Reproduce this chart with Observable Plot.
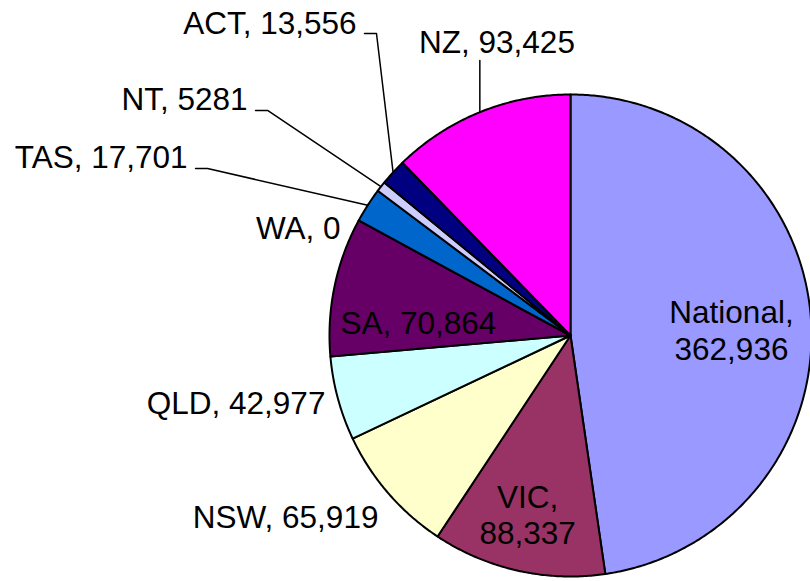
<!DOCTYPE html>
<html>
<head>
<meta charset="utf-8">
<script src="https://cdn.jsdelivr.net/npm/d3@7"></script>
<script src="https://cdn.jsdelivr.net/npm/@observablehq/plot@0.6"></script>
<style>
  html, body { margin: 0; padding: 0; background: #fff; }
  #chart svg { display: block; background: #fff; }
</style>
</head>
<body>
<div id="chart"></div>
<script>
// ---- Data ----
const categories = ["National", "VIC", "NSW", "QLD", "SA", "WA", "TAS", "NT", "ACT", "NZ"];
const values = [362936, 88337, 65919, 42977, 70864, 0, 17701, 5281, 13556, 93425];
const valueLabels = ["362,936", "88,337", "65,919", "42,977", "70,864", "0", "17,701", "5281", "13,556", "93,425"];
const colors = ["#9999FF", "#993366", "#FFFFCC", "#CCFFFF", "#660066", "#FF8080", "#0066CC", "#CCCCFF", "#000080", "#FF00FF"];

// ---- Layout (label placement in pie-radius units, x right / y up from centre) ----
const labelLayout = [
  {x: 0.668, y: -0.100, anchor: "middle", wrap: true},
  {x: -0.178, y: -0.867, anchor: "middle", wrap: true},
  {x: -0.797, y: -0.797, anchor: "end"},
  {x: -1.017, y: -0.324, anchor: "end"},
  {x: -0.631, y: 0.008, anchor: "middle"},
  {x: -0.954, y: 0.402, anchor: "end"},
  {x: -1.589, y: 0.693, anchor: "end", leader: "elbow"},
  {x: -1.340, y: 0.934, anchor: "end", leader: "elbow"},
  {x: -0.888, y: 1.253, anchor: "end", leader: "elbow"},
  {x: -0.305, y: 1.174, anchor: "middle", leader: "vertical"}
];

const W = 810, H = 581, CX = 570, CY = 335, R = 241;

// ---- Build slice geometry from the values ----
const total = d3.sum(values);
let acc = 0;
const slices = categories.map((c, i) => {
  const a0 = acc / total * 2 * Math.PI;
  acc += values[i];
  const a1 = acc / total * 2 * Math.PI;
  return {c, i, a0, a1, mid: (a0 + a1) / 2};
});

const polyPts = [];
for (const s of slices) {
  polyPts.push({c: s.c, x: 0, y: 0});
  const n = Math.max(2, Math.ceil((s.a1 - s.a0) / (Math.PI / 360)));
  for (let k = 0; k <= n; k++) {
    const a = s.a0 + (s.a1 - s.a0) * k / n;
    polyPts.push({c: s.c, x: Math.sin(a), y: Math.cos(a)});
  }
  polyPts.push({c: s.c, x: 0, y: 0});
}

// ---- Labels ----
const labelData = slices.map((s, i) => {
  const L = labelLayout[i];
  const text = L.wrap ? `${categories[i]},\n${valueLabels[i]}` : `${categories[i]}, ${valueLabels[i]}`;
  return {c: s.c, x: L.x, y: L.y, anchor: L.anchor, text};
});

// ---- Leader lines: from label to slice edge at mid-angle ----
const gap = 8 / R, run = 20 / R;
const leaderPts = [];
slices.forEach((s, i) => {
  const L = labelLayout[i];
  const ex = Math.sin(s.mid), ey = Math.cos(s.mid);
  if (L.leader === "elbow") {
    leaderPts.push({c: s.c, x: L.x + gap, y: L.y});
    leaderPts.push({c: s.c, x: L.x + run, y: L.y});
    leaderPts.push({c: s.c, x: ex, y: ey});
  } else if (L.leader === "vertical") {
    leaderPts.push({c: s.c, x: ex, y: L.y - gap});
    leaderPts.push({c: s.c, x: ex, y: ey});
  }
});

const font = "'Liberation Sans', Arial, Helvetica, sans-serif";
const textOpts = (anchor) => ({
  filter: d => d.anchor === anchor,
  x: "x", y: "y", text: "text",
  textAnchor: anchor, lineAnchor: "bottom", lineHeight: 1.15,
  fontSize: 31.5, fontFamily: font, fill: "black"
});

const chart = Plot.plot({
  width: W, height: H,
  margin: 0,
  x: {domain: [-CX / R, (W - CX) / R], axis: null},
  y: {domain: [(CY - H) / R, CY / R], axis: null},
  color: {domain: categories, range: colors},
  style: {fontFamily: font, background: "#fff"},
  marks: [
    Plot.line(polyPts, {x: "x", y: "y", z: "c", fill: "c", stroke: "black", strokeWidth: 2, strokeLinejoin: "round", curve: "linear"}),
    Plot.line(leaderPts, {x: "x", y: "y", z: "c", stroke: "black", strokeWidth: 1.5, curve: "linear"}),
    Plot.text(labelData, textOpts("middle")),
    Plot.text(labelData, textOpts("end")),
    Plot.text(labelData, textOpts("start"))
  ]
});
document.getElementById("chart").appendChild(chart);
</script>
</body>
</html>
